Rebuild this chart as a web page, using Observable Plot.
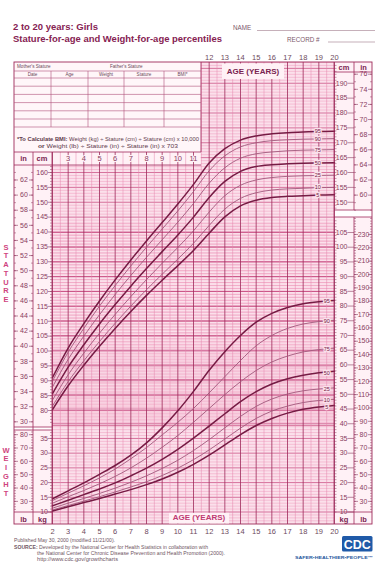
<!DOCTYPE html>
<html>
<head>
<meta charset="utf-8">
<script src="https://cdn.jsdelivr.net/npm/d3@7"></script>
<script src="https://cdn.jsdelivr.net/npm/@observablehq/plot@0.6"></script>
<style>
html,body{margin:0;padding:0;background:#fff;}
#chart{position:relative;width:375px;height:577px;overflow:hidden;font-family:"Liberation Sans",Arial,sans-serif;}
#chart svg{position:absolute;left:0;top:0;}
</style>
</head>
<body>
<div id="chart"></div>
<script>
// ---------------- data ----------------
const ages = [2,3,4,5,6,7,8,9,10,11,12,13,14,15,16,17,18,19,20];
const percentiles = [5,10,25,50,75,90,95];

// Stature-for-age (cm)
const stature5  = [80.3,88.3,95.2,101.6,107.6,113.3,118.7,123.8,128.7,133.8,139.6,145.1,148.8,150.7,151.6,152.0,152.2,152.4,152.5];
const stature10 = [81.5,89.7,96.7,103.2,109.3,115.1,120.6,125.8,130.9,136.2,142.2,147.7,151.3,153.2,154.1,154.5,154.7,154.9,155.0];
const stature25 = [83.5,92.0,99.3,106.0,112.3,118.3,124.0,129.5,134.8,140.4,146.7,152.2,155.7,157.5,158.3,158.7,158.9,159.0,159.1];
const stature50 = [85.7,94.6,102.1,109.1,115.6,121.8,127.7,133.4,139.0,145.0,151.6,157.0,160.4,162.0,162.6,162.9,163.1,163.2,163.3];
const stature75 = [87.9,97.2,105.0,112.2,119.0,125.4,131.5,137.4,143.3,149.6,156.4,161.6,164.8,166.3,166.9,167.3,167.5,167.6,167.7];
const stature90 = [89.9,99.6,107.6,115.1,122.0,128.6,134.9,141.0,147.1,153.6,160.6,165.6,168.6,170.0,170.7,171.0,171.2,171.3,171.4];
const stature95 = [91.1,101.0,109.2,116.8,123.9,130.6,137.0,143.2,149.4,156.0,163.2,168.0,170.9,172.3,173.0,173.4,173.6,173.8,173.9];

// Weight-for-age (kg)
const weight5  = [10.3,11.8,13.2,14.6,16.1,17.6,19.3,21.2,23.5,26.2,29.3,32.8,36.3,39.4,41.8,43.6,44.9,45.7,46.2];
const weight10 = [10.7,12.2,13.7,15.2,16.8,18.5,20.3,22.4,24.9,27.8,31.1,34.8,38.5,41.8,44.3,46.0,47.2,47.9,48.3];
const weight25 = [11.3,13.0,14.6,16.3,18.1,20.1,22.3,24.8,27.6,30.9,34.6,38.6,42.5,45.9,48.4,50.1,51.2,51.8,52.2];
const weight50 = [12.1,14.0,15.9,17.8,19.9,22.3,24.9,27.9,31.3,35.1,39.2,43.4,47.5,50.9,53.5,55.3,56.5,57.3,57.8];
const weight75 = [13.0,15.2,17.3,19.6,22.1,25.0,28.3,32.0,36.0,40.5,45.2,49.9,54.3,58.1,61.0,63.0,64.4,65.2,65.7];
const weight90 = [13.9,16.4,18.9,21.6,24.6,28.1,31.9,36.2,40.5,45.2,50.5,56.0,61.5,66.5,70.0,72.4,73.9,74.7,75.2];
const weight95 = [14.5,17.2,19.9,22.8,25.8,29.3,33.5,38.6,44.4,51.0,58.2,64.5,70.0,74.5,77.5,79.5,80.8,81.5,81.9];

// Tick labels
const headerAgeLabels = [3,4,5,6,7,8,9,10,11];
const topAgeLabels = [12,13,14,15,16,17,18,19,20];
const bottomAgeLabels = [2,3,4,5,6,7,8,9,10,11,12,13,14,15,16,17,18,19,20];
const statCmLeft  = [80,85,90,95,100,105,110,115,120,125,130,135,140,145,150,155,160];
const statInLeft  = [30,32,34,36,38,40,42,44,46,48,50,52,54,56,58,60,62];
const statCmRight = [150,155,160,165,170,175,180,185,190];
const statInRight = [60,62,64,66,68,70,72,74,76];
const wtKgLeft  = [10,15,20,25,30,35];
const wtLbLeft  = [30,40,50,60,70,80];
const wtKgRight = [10,15,20,25,30,35,40,45,50,55,60,65,70,75,80,85,90,95,100,105];
const wtLbRight = [30,40,50,60,70,80,90,100,110,120,130,140,150,160,170,180,190,200,210,220,230];

// ---------------- scales & styles ----------------
const X  = {domain:[2,20],  range:[52,334]};
const YS = {domain:[80,160], range:[410,172]};
const YW = {domain:[10,105], range:[511.5,232]};
const ageAt = d3.scaleLinear().domain(X.range).range(X.domain);
const cmAt  = d3.scaleLinear().domain(YS.range).range(YS.domain);
const kgAt  = d3.scaleLinear().domain(YW.range).range(YW.domain);
const IN = 2.54, LB = 0.45359237;
const FONT = '"Liberation Sans", Arial, sans-serif';
const C = {bg:"#fbe0eb", col:"#fff1f6", minor:"#ef9bbd", major:"#c6437b", year:"#9e2a5a", half:"#e484ad",
  frame:"#9e2a5a", label:"#8a3c60", dark:"#761b44", thin:"#a2587c", head:"#7a2350", title:"#862252"};

const statureSeries = {5:stature5,10:stature10,25:stature25,50:stature50,75:stature75,90:stature90,95:stature95};
const weightSeries  = {5:weight5,10:weight10,25:weight25,50:weight50,75:weight75,90:weight90,95:weight95};
const rowsOf = S => percentiles.flatMap(p => ages.map((a,i) => ({age:a, p, v:S[p][i]})));
const statRows = rowsOf(statureSeries), wtRows = rowsOf(weightSeries);
const isThick = p => p===5 || p===50 || p===95;
const i19 = ages.indexOf(19);

function layer(y, marks){
  return Plot.plot({width:375, height:577, margin:0,
    x:{...X, axis:null}, y:{...y, axis:null},
    style:{background:"transparent", overflow:"visible", fontFamily:FONT}, marks});
}
const tick = (vals, toY, px1, px2, stroke, w) =>
  Plot.ruleY(vals, {y: toY, x1: () => ageAt(px1), x2: () => ageAt(px2), stroke, strokeWidth: w});
const colText = (vals, toY, px, anchor, opts={}) =>
  Plot.text(vals, {x: () => ageAt(px), y: toY, text: d => d, textAnchor: anchor, fontSize: 7, fill: C.label, ...opts});

// ---------------- layer 0 : backgrounds ----------------
const bg = d3.create("svg").attr("width",375).attr("height",577);
const R = (x1,y1,x2,y2,f) => bg.append("rect").attr("x",x1).attr("y",y1).attr("width",x2-x1).attr("height",y2-y1).attr("fill",f);
R(14,62,372,524,C.bg);
R(14,62,201,152,"#fff6f9");
R(14,152,201,165,C.col);
R(14,165,52,524,C.col);
R(334,62,372,524,C.col);
R(14,427,52,430,"#fff");
R(334,210,372,217,"#fff");

// ---------------- layer 1 : stature grid & axes ----------------
const cmLines = d3.range(75,198);
const statX1 = d => d <= 162 ? 2 : 11.5;
const inchL = d3.range(30,64), inchR = d3.range(58,77);
const L1 = layer(YS, [
  Plot.ruleY(cmLines.filter(d=>d%5), {y:d=>d, x1:statX1, x2:()=>20, stroke:C.minor, strokeWidth:0.5}),
  Plot.ruleY(cmLines.filter(d=>d%5===0), {y:d=>d, x1:statX1, x2:()=>20, stroke:C.major, strokeWidth:0.7}),
  tick(d3.range(76,163), d=>d, 50, 52, C.label, 0.5),
  tick(statCmLeft, d=>d, 48, 52, C.label, 0.6),
  colText(statCmLeft, d=>d, 47.5, "end"),
  tick(inchL, d=>d*IN, 14, 16, C.label, 0.5),
  tick(inchL, d=>d*IN, 31, 33, C.label, 0.5),
  tick(statInLeft, d=>d*IN, 14, 18, C.label, 0.6),
  tick(statInLeft, d=>d*IN, 29, 33, C.label, 0.6),
  colText(statInLeft, d=>d*IN, 23.5, "middle"),
  tick(d3.range(148,197), d=>d, 334, 336.5, C.label, 0.5),
  tick(statCmRight, d=>d, 347.5, 354, C.label, 0.6),
  colText(statCmRight, d=>d, 347, "end"),
  tick(inchR, d=>d*IN, 354, 356, C.label, 0.5),
  tick(inchR, d=>d*IN, 370, 372, C.label, 0.5),
  tick(statInRight, d=>d*IN, 354, 358, C.label, 0.6),
  tick(statInRight, d=>d*IN, 368, 372, C.label, 0.6),
  colText(statInRight, d=>d*IN, 363, "middle")
]);

// ---------------- layer 2 : weight grid, verticals, weight axes & curves ----------------
const kgLines = d3.range(7,109);
const halfYears = d3.range(2,20.01,0.5);
const vTop = a => a < 11.5 ? kgAt(152) : kgAt(62);
const lbL = d3.range(24,83,2), lbR = d3.range(24,243,2);
const L2 = layer(YW, [
  Plot.ruleY(kgLines.filter(d=>d%5), {y:d=>d, x1:()=>2, x2:()=>20, stroke:C.minor, strokeWidth:0.5}),
  Plot.ruleY(kgLines.filter(d=>d%5===0), {y:d=>d, x1:()=>2, x2:()=>20, stroke:C.major, strokeWidth:0.7}),
  Plot.ruleX(halfYears.filter(d=>!Number.isInteger(d)), {x:d=>d, y1:vTop, y2:()=>kgAt(524), stroke:C.half, strokeWidth:0.5}),
  Plot.ruleX(halfYears.filter(Number.isInteger), {x:d=>d, y1:vTop, y2:()=>kgAt(524), stroke:C.year, strokeWidth:0.8}),
  tick(d3.range(10,38), d=>d, 50, 52, C.label, 0.5),
  tick(wtKgLeft, d=>d, 48, 52, C.label, 0.6),
  colText(wtKgLeft, d=>d, 47.5, "end"),
  tick(lbL, d=>d*LB, 14, 16, C.label, 0.5),
  tick(lbL, d=>d*LB, 31, 33, C.label, 0.5),
  tick(wtLbLeft, d=>d*LB, 14, 18, C.label, 0.6),
  tick(wtLbLeft, d=>d*LB, 29, 33, C.label, 0.6),
  colText(wtLbLeft, d=>d*LB, 23.5, "middle"),
  tick(d3.range(10,110), d=>d, 334, 336.5, C.label, 0.5),
  tick(wtKgRight, d=>d, 347.5, 354, C.label, 0.6),
  colText(wtKgRight, d=>d, 347, "end"),
  tick(lbR, d=>d*LB, 354, 356, C.label, 0.5),
  tick(lbR, d=>d*LB, 370, 372, C.label, 0.5),
  tick(wtLbRight, d=>d*LB, 354, 358, C.label, 0.6),
  tick(wtLbRight, d=>d*LB, 368, 372, C.label, 0.6),
  colText(wtLbRight, d=>d*LB, 363, "middle"),
  Plot.line(wtRows.filter(d=>!isThick(d.p)), {x:"age", y:"v", z:"p", stroke:C.thin, strokeWidth:0.9, curve:"monotone-x"}),
  Plot.line(wtRows.filter(d=>isThick(d.p)), {x:"age", y:"v", z:"p", stroke:C.dark, strokeWidth:1.5, curve:"monotone-x"}),
  Plot.text(percentiles, {x:()=>19, y:p=>weightSeries[p][i19], text:d=>d, dx:8, fontSize:5.5, fill:C.dark, stroke:C.bg, strokeWidth:2.5})
]);

// ---------------- layer 3 : stature curves & age labels ----------------
const L3 = layer(YS, [
  Plot.line(statRows.filter(d=>!isThick(d.p)), {x:"age", y:"v", z:"p", stroke:C.thin, strokeWidth:0.9, curve:"monotone-x"}),
  Plot.line(statRows.filter(d=>isThick(d.p)), {x:"age", y:"v", z:"p", stroke:C.dark, strokeWidth:1.5, curve:"monotone-x"}),
  Plot.text(percentiles, {x:()=>19, y:p=>statureSeries[p][i19], text:d=>d, dx:-1, fontSize:5.5, fill:C.dark, stroke:C.bg, strokeWidth:2.5}),
  Plot.text(headerAgeLabels, {x:d=>d, y:()=>cmAt(158.5), text:d=>d, fontSize:7.5, fill:C.label, stroke:C.col, strokeWidth:2}),
  Plot.text(topAgeLabels, {x:d=>d, y:()=>cmAt(57), text:d=>d, fontSize:7.5, fill:"#6e4a5e"}),
  Plot.text(bottomAgeLabels, {x:d=>d, y:()=>cmAt(531), text:d=>d, fontSize:7.5, fill:"#6e4a5e"})
]);

// ---------------- layer 4 : frame, table, texts ----------------
const fg = d3.create("svg").attr("width",375).attr("height",577).attr("font-family",FONT);
const Ln = (x1,y1,x2,y2,c=C.frame,w=0.8) => fg.append("line").attr("x1",x1).attr("y1",y1).attr("x2",x2).attr("y2",y2).attr("stroke",c).attr("stroke-width",w);
const Tx = (x,y,s,o={}) => {
  const t = fg.append("text").attr("x",x).attr("y",y).attr("dy","0.36em")
    .attr("font-size",o.size||6).attr("fill",o.fill||C.head).attr("text-anchor",o.anchor||"start");
  if (o.bold) t.attr("font-weight","bold");
  if (o.len) t.attr("textLength",o.len).attr("lengthAdjust","spacingAndGlyphs");
  t.text(s); return t;
};
const Box = (x1,y1,x2,y2,f) => fg.append("rect").attr("x",x1).attr("y",y1).attr("width",x2-x1).attr("height",y2-y1).attr("fill",f);

fg.append("rect").attr("x",14).attr("y",62).attr("width",358).attr("height",462).attr("fill","none").attr("stroke",C.frame).attr("stroke-width",0.9);
Ln(33,152,33,524); Ln(52,152,52,524);
Ln(14,152,201,152); Ln(14,165,201,165);
Ln(14,427,52,427); Ln(14,430,52,430); Ln(14,512,52,512);
Ln(334,62,334,524); Ln(354,62,354,210); Ln(354,217,354,524);
Ln(334,72,372,72); Ln(334,210,372,210); Ln(334,217,372,217); Ln(334,512,372,512);
Ln(201,62,201,152);

// table
const tc = "#b0507a";
Ln(14,71,201,71,tc,0.6);
[78,86.2,94.4,102.6,110.8,119,127].forEach(y => Ln(14,y,201,y,tc,0.6));
[51,88,124,164].forEach(x => Ln(x,71,x,127,tc,0.6));
const tt = "#6d4a5a";
Tx(17,66.5,"Mother's Stature",{size:4.6,fill:tt});
Tx(110,66.5,"Father's Stature",{size:4.6,fill:tt});
[["Date",32.5],["Age",69.5],["Weight",106],["Stature",144],["BMI*",182.5]].forEach(([s,x]) => Tx(x,74.7,s,{size:4.6,fill:tt,anchor:"middle"}));
const b1 = fg.append("text").attr("x",108).attr("y",139.5).attr("dy","0.36em").attr("font-size",5.2).attr("fill","#5e3a4c").attr("text-anchor","middle").attr("textLength",182).attr("lengthAdjust","spacingAndGlyphs");
b1.append("tspan").attr("font-weight","bold").text("*To Calculate BMI:");
b1.append("tspan").text(" Weight (kg) ÷ Stature (cm) ÷ Stature (cm) x 10,000");
const b2 = fg.append("text").attr("x",108).attr("y",146.5).attr("dy","0.36em").attr("font-size",5.2).attr("fill","#5e3a4c").attr("text-anchor","middle").attr("textLength",140).attr("lengthAdjust","spacingAndGlyphs");
b2.append("tspan").attr("font-weight","bold").text("or");
b2.append("tspan").text(" Weight (lb) ÷ Stature (in) ÷ Stature (in) x 703");

// titles
Tx(13,27,"2 to 20 years: Girls",{size:9.5,bold:true,fill:C.title,len:85});
Tx(13,39,"Stature-for-age and Weight-for-age percentiles",{size:9.5,bold:true,fill:C.title,len:209});
Tx(233,27.5,"NAME",{size:6.3,fill:"#7d5a6c"});
Ln(257,30.5,375,30.5,"#a07a8c",0.6);
Tx(287,39.3,"RECORD #",{size:6.3,fill:"#7d5a6c"});
Ln(328,42,375,42,"#a07a8c",0.6);

Box(222,63.5,284,79,C.col);
Tx(253,71.5,"AGE (YEARS)",{size:8,bold:true,anchor:"middle",fill:C.head});
Box(169,512.8,229,523.5,C.col);
Tx(199,517.5,"AGE (YEARS)",{size:8,bold:true,anchor:"middle",fill:"#c03a72"});

Tx(344,67,"cm",{size:7.5,bold:true,anchor:"middle"});
Tx(363.5,67,"in",{size:7.5,bold:true,anchor:"middle"});
Tx(23.5,158.5,"in",{size:7.5,bold:true,anchor:"middle"});
Tx(42,158.5,"cm",{size:7.5,bold:true,anchor:"middle"});
Tx(23.5,519,"lb",{size:7.5,bold:true,anchor:"middle"});
Tx(42.5,519,"kg",{size:7.5,bold:true,anchor:"middle"});
Tx(344,519,"kg",{size:7.5,bold:true,anchor:"middle"});
Tx(363.5,519,"lb",{size:7.5,bold:true,anchor:"middle"});

"STATURE".split("").forEach((ch,i) => Tx(6,247+i*8.7,ch,{size:7.5,bold:true,anchor:"middle",fill:"#cf447e"}));
"WEIGHT".split("").forEach((ch,i) => Tx(6,450+i*8.6,ch,{size:7.5,bold:true,anchor:"middle",fill:"#cf447e"}));

const ft = "#6f5563";
Tx(14,540.5,"Published May 30, 2000 (modified 11/21/00).",{size:4.9,fill:ft,len:101});
const s1 = fg.append("text").attr("x",14).attr("y",547).attr("dy","0.36em").attr("font-size",4.9).attr("fill",ft).attr("textLength",194).attr("lengthAdjust","spacingAndGlyphs");
s1.append("tspan").attr("font-weight","bold").text("SOURCE:");
s1.append("tspan").text(" Developed by the National Center for Health Statistics in collaboration with");
Tx(37,553,"the National Center for Chronic Disease Prevention and Health Promotion (2000).",{size:4.9,fill:ft,len:188});
Tx(37,559.5,"http://www.cdc.gov/growthcharts",{size:4.9,fill:ft,len:81});

fg.append("rect").attr("x",342).attr("y",536).attr("width",30.5).attr("height",15.5).attr("rx",1.5).attr("fill","#1f5aa8");
Tx(357.2,544,"CDC",{size:13,bold:true,anchor:"middle",fill:"#fff",len:27});
Tx(295,557.3,"SAFER•HEALTHIER•PEOPLE™",{size:4.2,bold:true,fill:"#2a5aa0",len:78});

const root = document.getElementById("chart");
root.append(bg.node(), L1, L2, L3, fg.node());
</script>
</body>
</html>
